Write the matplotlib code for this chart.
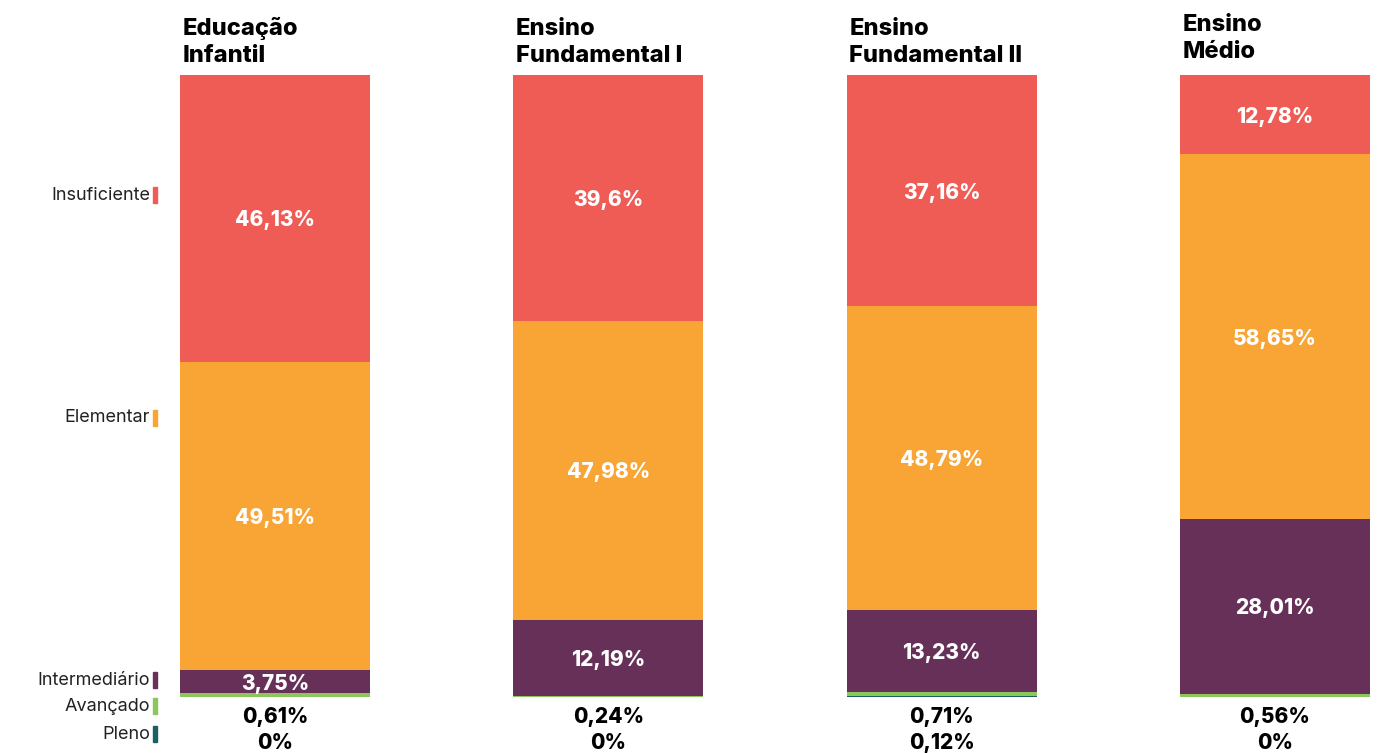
import numpy as np
import matplotlib.pyplot as plt
from matplotlib.patches import Rectangle
import matplotlib.transforms as mtransforms

plt.rcParams['font.family'] = ['Inter', 'DejaVu Sans']

# data
etapas = ['Educação\nInfantil', 'Ensino\nFundamental I', 'Ensino\nFundamental II', 'Ensino\nMédio']
niveis = ['Pleno', 'Avançado', 'Intermediário', 'Elementar', 'Insuficiente']
pleno = [0, 0, 0.12, 0]
avancado = [0.61, 0.24, 0.71, 0.56]
intermediario = [3.75, 12.19, 13.23, 28.01]
elementar = [49.51, 47.98, 48.79, 58.65]
insuficiente = [46.13, 39.6, 37.16, 12.78]
cores = ['#1b5e63', '#8bc75a', '#673058', '#f8a535', '#ef5b55']

series = [pleno, avancado, intermediario, elementar, insuficiente]

def fmt(v):
    s = ('%.2f' % v).rstrip('0').rstrip('.')
    return s.replace('.', ',') + '%'

fig = plt.figure(figsize=(13.8, 7.53), dpi=100)
ax = fig.add_axes([180/1380, 56/753, 1190/1380, 622/753])

x = np.arange(len(etapas))
w = 0.57
bottom = np.zeros(len(etapas))
for vals, c in zip(series, cores):
    ax.bar(x, vals, w, bottom=bottom, color=c, linewidth=0)
    bottom += np.array(vals)

# rotulos dentro das barras
base = np.array(pleno) + np.array(avancado)
for vals in [intermediario, elementar, insuficiente]:
    for i, v in enumerate(vals):
        ax.text(x[i], base[i] + v/2, fmt(v), ha='center', va='center_baseline',
                color='white', fontsize=15, fontweight='heavy')
    base = base + np.array(vals)

# valores pequenos abaixo
trans = mtransforms.blended_transform_factory(ax.transData, ax.transAxes)
for i in range(len(etapas)):
    ax.text(x[i], -0.029, fmt(avancado[i]), transform=trans, ha='center', va='center_baseline',
            color='black', fontsize=15, fontweight='heavy')
    ax.text(x[i], -0.071, fmt(pleno[i]), transform=trans, ha='center', va='center_baseline',
            color='black', fontsize=15, fontweight='heavy')

# titulos
title_off = [0.0, 0.0, 0.0, 0.006]
for i, t in enumerate(etapas):
    ax.text(x[i] - w/2 + 0.008, 1.013 + title_off[i], t, transform=trans, ha='left', va='bottom',
            fontsize=17, fontweight='heavy', color='black', linespacing=1.3)

# legenda lateral
label_y = {'Insuficiente': 0.807, 'Elementar': 0.4486, 'Intermediário': 0.0273,
           'Avançado': -0.0145, 'Pleno': -0.0595}
for n, c in zip(niveis, cores):
    yf = (56 + label_y[n] * 622) / 753
    fig.text(150/1380, yf, n, ha='right', va='center', fontsize=13, color='#222222')
    fig.patches.append(Rectangle((153/1380, yf - 8/753), 4/1380, 16/753,
                                 transform=fig.transFigure, color=c, figure=fig))

ax.set_xlim(-w/2, 3 + w/2)
ax.set_ylim(0, 100)
ax.axis('off')

fig.savefig('out.png', dpi=100, facecolor='white')
